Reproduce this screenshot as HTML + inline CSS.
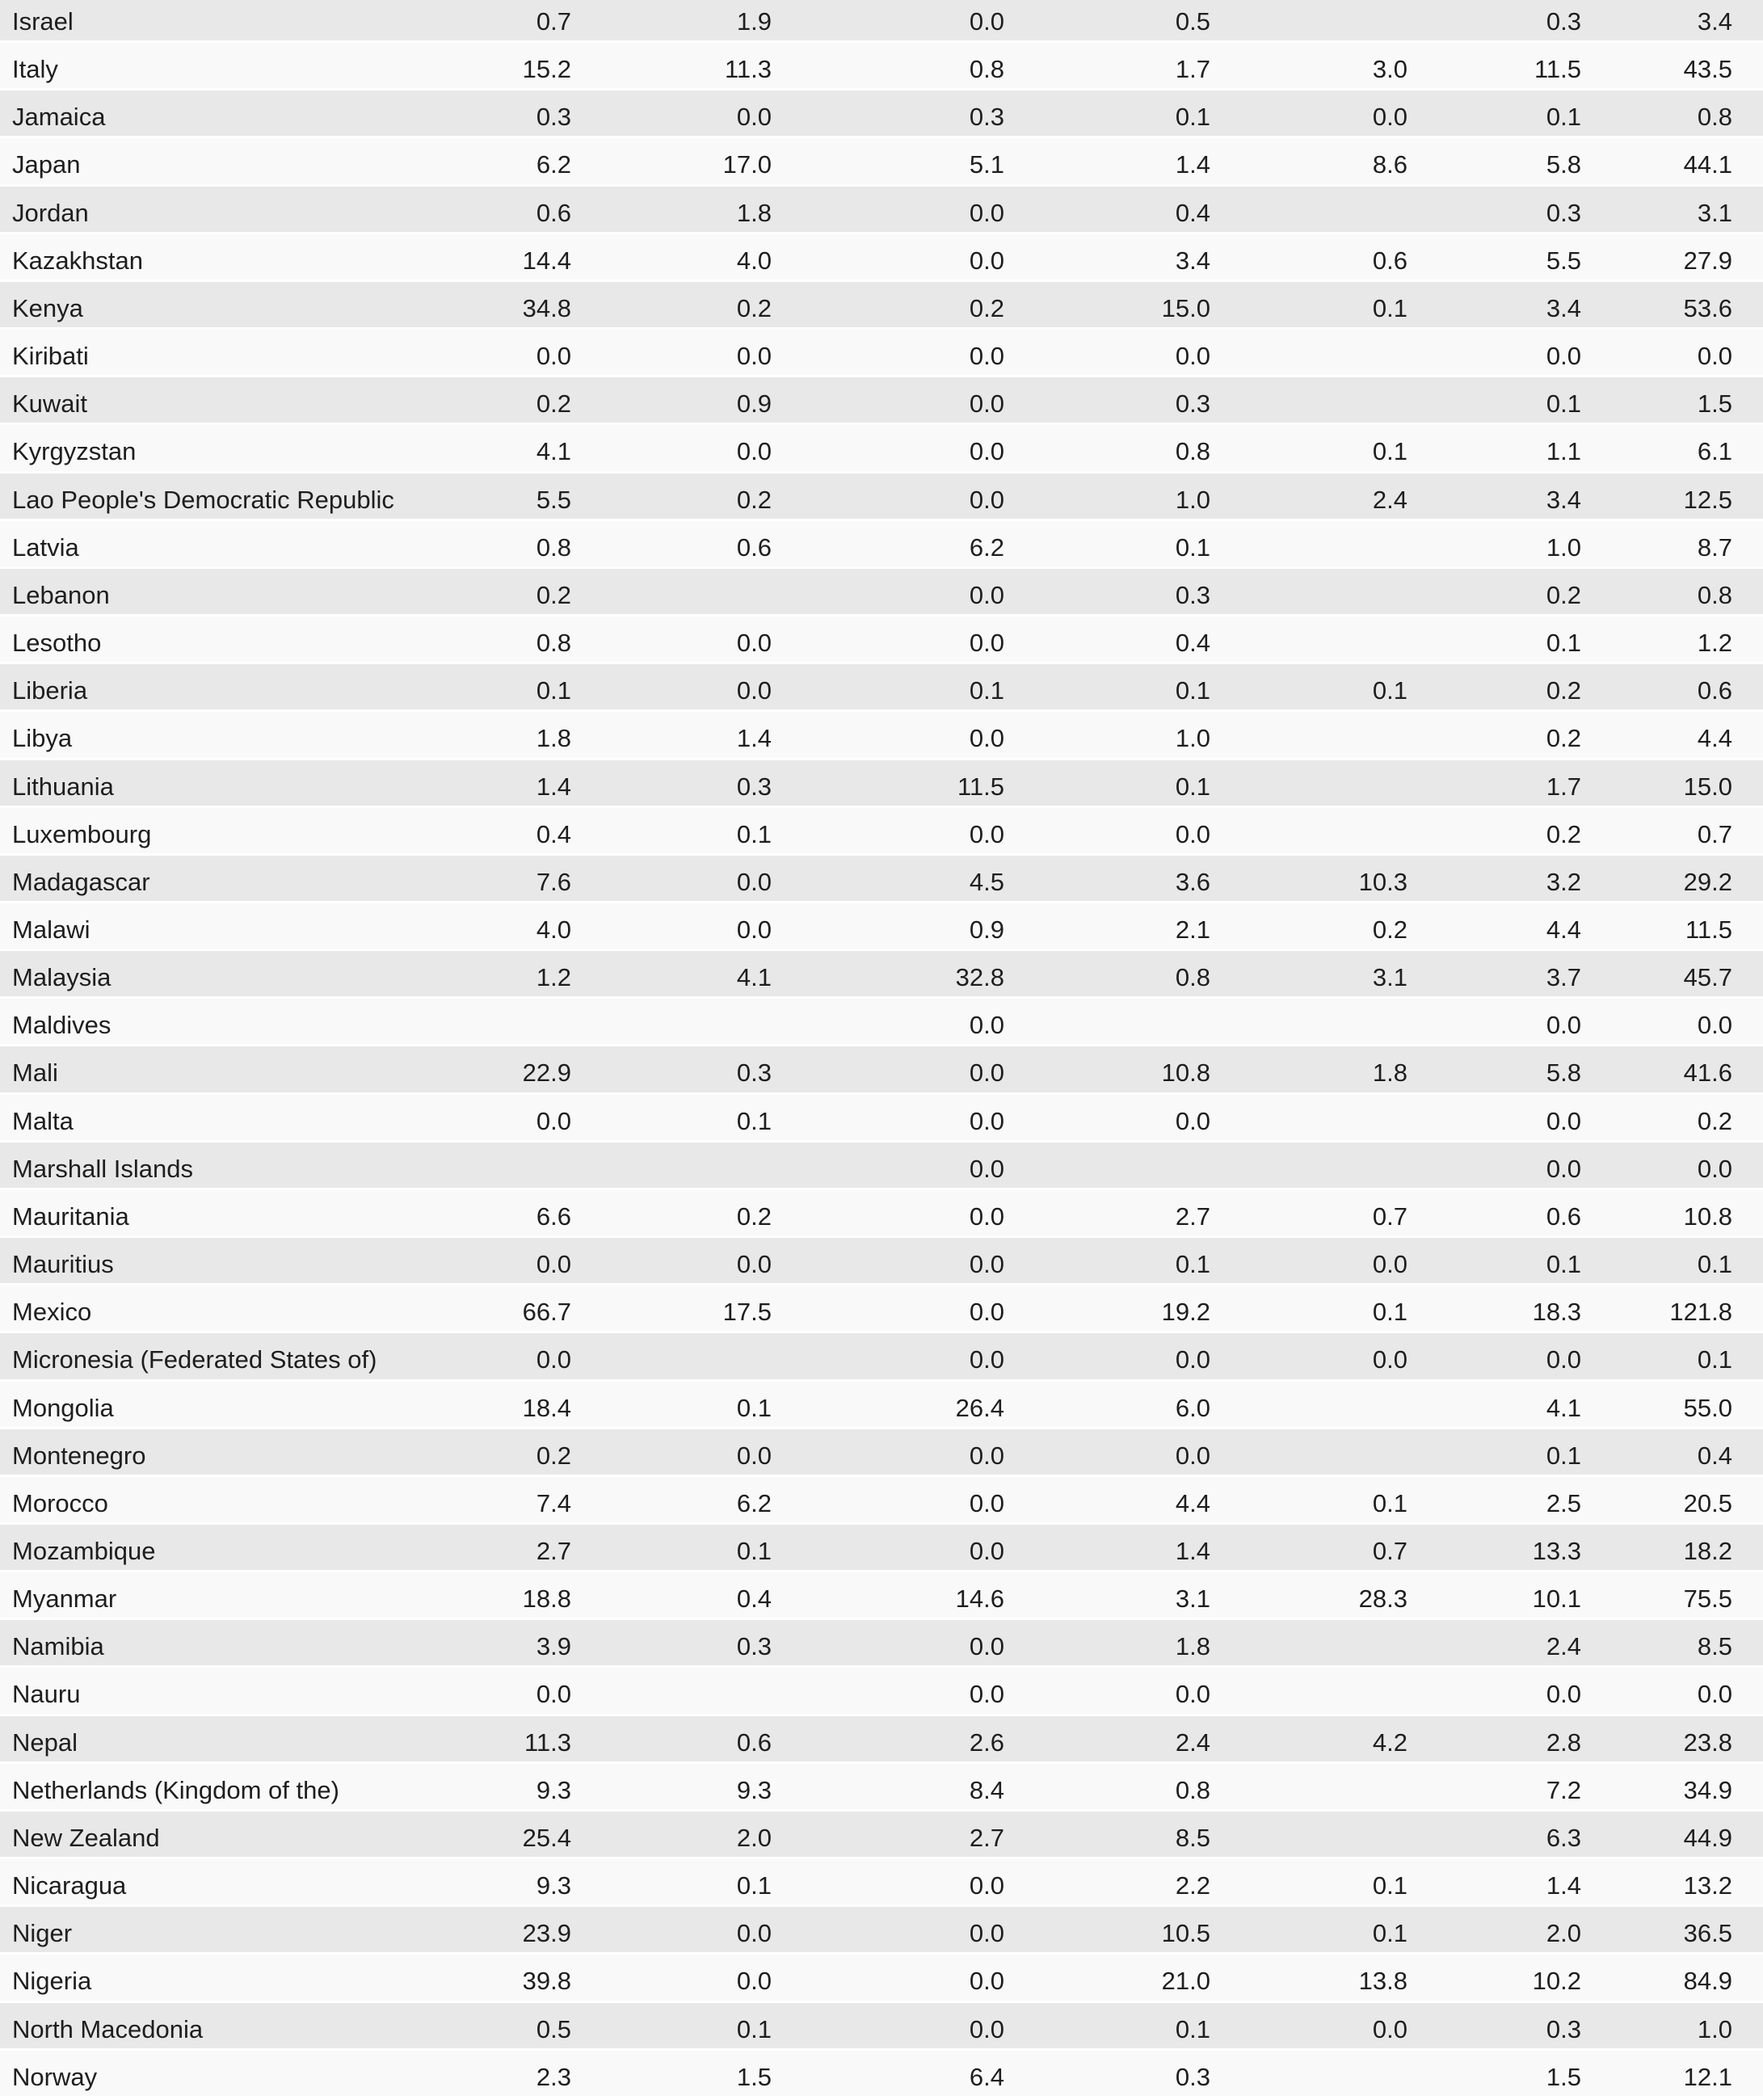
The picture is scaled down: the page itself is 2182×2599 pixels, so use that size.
<!DOCTYPE html>
<html><head><meta charset="utf-8"><style>
html,body{margin:0;padding:0;background:#fff;}
body{width:2182px;height:2595px;overflow:hidden;position:relative;font-family:"Liberation Sans",sans-serif;color:#1e1e1e;}
#t{position:absolute;left:0;top:-6px;width:2182px;}
.r{position:relative;height:56.16px;margin-bottom:3px;background:#f9f9f9;font-size:31px;line-height:56px;}
.r:nth-child(odd){background:#e8e8e8;}
.r span{position:absolute;top:5px;}
.r span:nth-child(1){left:15px;}
.r span:nth-child(2){right:1475px;}
.r span:nth-child(3){right:1227px;}
.r span:nth-child(4){right:939px;}
.r span:nth-child(5){right:684px;}
.r span:nth-child(6){right:440px;}
.r span:nth-child(7){right:225px;}
.r span:nth-child(8){right:38px;}
</style></head><body><div id="t">
<div class="r"><span>Israel</span><span>0.7</span><span>1.9</span><span>0.0</span><span>0.5</span><span></span><span>0.3</span><span>3.4</span></div>
<div class="r"><span>Italy</span><span>15.2</span><span>11.3</span><span>0.8</span><span>1.7</span><span>3.0</span><span>11.5</span><span>43.5</span></div>
<div class="r"><span>Jamaica</span><span>0.3</span><span>0.0</span><span>0.3</span><span>0.1</span><span>0.0</span><span>0.1</span><span>0.8</span></div>
<div class="r"><span>Japan</span><span>6.2</span><span>17.0</span><span>5.1</span><span>1.4</span><span>8.6</span><span>5.8</span><span>44.1</span></div>
<div class="r"><span>Jordan</span><span>0.6</span><span>1.8</span><span>0.0</span><span>0.4</span><span></span><span>0.3</span><span>3.1</span></div>
<div class="r"><span>Kazakhstan</span><span>14.4</span><span>4.0</span><span>0.0</span><span>3.4</span><span>0.6</span><span>5.5</span><span>27.9</span></div>
<div class="r"><span>Kenya</span><span>34.8</span><span>0.2</span><span>0.2</span><span>15.0</span><span>0.1</span><span>3.4</span><span>53.6</span></div>
<div class="r"><span>Kiribati</span><span>0.0</span><span>0.0</span><span>0.0</span><span>0.0</span><span></span><span>0.0</span><span>0.0</span></div>
<div class="r"><span>Kuwait</span><span>0.2</span><span>0.9</span><span>0.0</span><span>0.3</span><span></span><span>0.1</span><span>1.5</span></div>
<div class="r"><span>Kyrgyzstan</span><span>4.1</span><span>0.0</span><span>0.0</span><span>0.8</span><span>0.1</span><span>1.1</span><span>6.1</span></div>
<div class="r"><span>Lao People's Democratic Republic</span><span>5.5</span><span>0.2</span><span>0.0</span><span>1.0</span><span>2.4</span><span>3.4</span><span>12.5</span></div>
<div class="r"><span>Latvia</span><span>0.8</span><span>0.6</span><span>6.2</span><span>0.1</span><span></span><span>1.0</span><span>8.7</span></div>
<div class="r"><span>Lebanon</span><span>0.2</span><span></span><span>0.0</span><span>0.3</span><span></span><span>0.2</span><span>0.8</span></div>
<div class="r"><span>Lesotho</span><span>0.8</span><span>0.0</span><span>0.0</span><span>0.4</span><span></span><span>0.1</span><span>1.2</span></div>
<div class="r"><span>Liberia</span><span>0.1</span><span>0.0</span><span>0.1</span><span>0.1</span><span>0.1</span><span>0.2</span><span>0.6</span></div>
<div class="r"><span>Libya</span><span>1.8</span><span>1.4</span><span>0.0</span><span>1.0</span><span></span><span>0.2</span><span>4.4</span></div>
<div class="r"><span>Lithuania</span><span>1.4</span><span>0.3</span><span>11.5</span><span>0.1</span><span></span><span>1.7</span><span>15.0</span></div>
<div class="r"><span>Luxembourg</span><span>0.4</span><span>0.1</span><span>0.0</span><span>0.0</span><span></span><span>0.2</span><span>0.7</span></div>
<div class="r"><span>Madagascar</span><span>7.6</span><span>0.0</span><span>4.5</span><span>3.6</span><span>10.3</span><span>3.2</span><span>29.2</span></div>
<div class="r"><span>Malawi</span><span>4.0</span><span>0.0</span><span>0.9</span><span>2.1</span><span>0.2</span><span>4.4</span><span>11.5</span></div>
<div class="r"><span>Malaysia</span><span>1.2</span><span>4.1</span><span>32.8</span><span>0.8</span><span>3.1</span><span>3.7</span><span>45.7</span></div>
<div class="r"><span>Maldives</span><span></span><span></span><span>0.0</span><span></span><span></span><span>0.0</span><span>0.0</span></div>
<div class="r"><span>Mali</span><span>22.9</span><span>0.3</span><span>0.0</span><span>10.8</span><span>1.8</span><span>5.8</span><span>41.6</span></div>
<div class="r"><span>Malta</span><span>0.0</span><span>0.1</span><span>0.0</span><span>0.0</span><span></span><span>0.0</span><span>0.2</span></div>
<div class="r"><span>Marshall Islands</span><span></span><span></span><span>0.0</span><span></span><span></span><span>0.0</span><span>0.0</span></div>
<div class="r"><span>Mauritania</span><span>6.6</span><span>0.2</span><span>0.0</span><span>2.7</span><span>0.7</span><span>0.6</span><span>10.8</span></div>
<div class="r"><span>Mauritius</span><span>0.0</span><span>0.0</span><span>0.0</span><span>0.1</span><span>0.0</span><span>0.1</span><span>0.1</span></div>
<div class="r"><span>Mexico</span><span>66.7</span><span>17.5</span><span>0.0</span><span>19.2</span><span>0.1</span><span>18.3</span><span>121.8</span></div>
<div class="r"><span>Micronesia (Federated States of)</span><span>0.0</span><span></span><span>0.0</span><span>0.0</span><span>0.0</span><span>0.0</span><span>0.1</span></div>
<div class="r"><span>Mongolia</span><span>18.4</span><span>0.1</span><span>26.4</span><span>6.0</span><span></span><span>4.1</span><span>55.0</span></div>
<div class="r"><span>Montenegro</span><span>0.2</span><span>0.0</span><span>0.0</span><span>0.0</span><span></span><span>0.1</span><span>0.4</span></div>
<div class="r"><span>Morocco</span><span>7.4</span><span>6.2</span><span>0.0</span><span>4.4</span><span>0.1</span><span>2.5</span><span>20.5</span></div>
<div class="r"><span>Mozambique</span><span>2.7</span><span>0.1</span><span>0.0</span><span>1.4</span><span>0.7</span><span>13.3</span><span>18.2</span></div>
<div class="r"><span>Myanmar</span><span>18.8</span><span>0.4</span><span>14.6</span><span>3.1</span><span>28.3</span><span>10.1</span><span>75.5</span></div>
<div class="r"><span>Namibia</span><span>3.9</span><span>0.3</span><span>0.0</span><span>1.8</span><span></span><span>2.4</span><span>8.5</span></div>
<div class="r"><span>Nauru</span><span>0.0</span><span></span><span>0.0</span><span>0.0</span><span></span><span>0.0</span><span>0.0</span></div>
<div class="r"><span>Nepal</span><span>11.3</span><span>0.6</span><span>2.6</span><span>2.4</span><span>4.2</span><span>2.8</span><span>23.8</span></div>
<div class="r"><span>Netherlands (Kingdom of the)</span><span>9.3</span><span>9.3</span><span>8.4</span><span>0.8</span><span></span><span>7.2</span><span>34.9</span></div>
<div class="r"><span>New Zealand</span><span>25.4</span><span>2.0</span><span>2.7</span><span>8.5</span><span></span><span>6.3</span><span>44.9</span></div>
<div class="r"><span>Nicaragua</span><span>9.3</span><span>0.1</span><span>0.0</span><span>2.2</span><span>0.1</span><span>1.4</span><span>13.2</span></div>
<div class="r"><span>Niger</span><span>23.9</span><span>0.0</span><span>0.0</span><span>10.5</span><span>0.1</span><span>2.0</span><span>36.5</span></div>
<div class="r"><span>Nigeria</span><span>39.8</span><span>0.0</span><span>0.0</span><span>21.0</span><span>13.8</span><span>10.2</span><span>84.9</span></div>
<div class="r"><span>North Macedonia</span><span>0.5</span><span>0.1</span><span>0.0</span><span>0.1</span><span>0.0</span><span>0.3</span><span>1.0</span></div>
<div class="r"><span>Norway</span><span>2.3</span><span>1.5</span><span>6.4</span><span>0.3</span><span></span><span>1.5</span><span>12.1</span></div>
</div></body></html>
